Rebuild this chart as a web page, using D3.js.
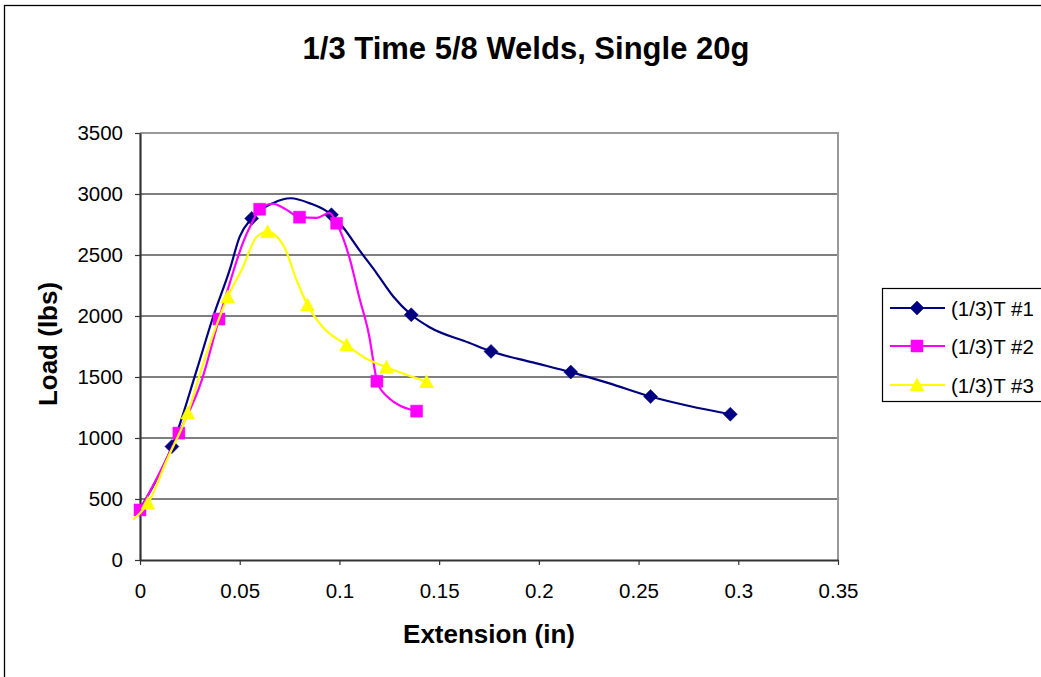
<!DOCTYPE html>
<html>
<head>
<meta charset="utf-8">
<script src="https://cdn.jsdelivr.net/npm/d3@7"></script>
<style>
  html, body { margin: 0; padding: 0; background: #fff; }
  svg { display: block; }
  text { font-family: "Liberation Sans", Arial, Helvetica, sans-serif; fill: #000; }
</style>
</head>
<body>
<svg id="chart" width="1041" height="677"></svg>
<script>
// ---- data ----
const title = "1/3 Time 5/8 Welds, Single 20g";
const xTitle = "Extension (in)";
const yTitle = "Load (lbs)";
const xTicks = [0, 0.05, 0.1, 0.15, 0.2, 0.25, 0.3, 0.35];
const xTickLabels = ["0", "0.05", "0.1", "0.15", "0.2", "0.25", "0.3", "0.35"];
const yTicks = [0, 500, 1000, 1500, 2000, 2500, 3000, 3500];
const seriesNames = ["(1/3)T #1", "(1/3)T #2", "(1/3)T #3"];

// Series 1 (line trace + marker points)
const s1LineX = [0, 0.008, 0.016, 0.0285, 0.0366, 0.045, 0.050, 0.056, 0.0666, 0.0756, 0.085, 0.096, 0.1017, 0.110, 0.1187, 0.127, 0.136, 0.145, 0.165, 0.176, 0.197, 0.216, 0.235, 0.256, 0.2754, 0.296];
const s1LineY = [420, 650, 930, 1560, 1990, 2380, 2650, 2800, 2925, 2965, 2925, 2830, 2730, 2540, 2350, 2160, 2010, 1910, 1780, 1710, 1620, 1540, 1450, 1340, 1262, 1195];
const s1MarkX = [0.016, 0.056, 0.096, 0.136, 0.176, 0.216, 0.256, 0.296];
const s1MarkY = [930, 2800, 2830, 2010, 1710, 1540, 1340, 1195];

// Series 2
const s2LineX = [0, 0.01, 0.0195, 0.031, 0.0396, 0.045, 0.0516, 0.056, 0.060, 0.0666, 0.0736, 0.080, 0.0886, 0.095, 0.0986, 0.105, 0.110, 0.115, 0.1177, 0.1188, 0.1237, 0.1387];
const s2LineY = [410, 720, 1040, 1475, 1975, 2270, 2600, 2760, 2875, 2920, 2870, 2810, 2805, 2845, 2760, 2480, 2150, 1830, 1560, 1465, 1344, 1220];
const s2MarkX = [0, 0.0195, 0.0396, 0.060, 0.080, 0.0986, 0.1188, 0.1387];
const s2MarkY = [410, 1040, 1975, 2875, 2810, 2760, 1465, 1220];

// Series 3
const s3LineX = [-0.0035, 0.004, 0.0135, 0.024, 0.0315, 0.044, 0.0516, 0.0585, 0.064, 0.0726, 0.0785, 0.084, 0.0916, 0.1036, 0.112, 0.1236, 0.1437];
const s3LineY = [330, 465, 820, 1205, 1600, 2155, 2400, 2650, 2690, 2557, 2295, 2090, 1910, 1762, 1664, 1580, 1462];
const s3MarkX = [0.004, 0.024, 0.044, 0.064, 0.084, 0.1036, 0.1236, 0.1437];
const s3MarkY = [465, 1205, 2155, 2690, 2090, 1762, 1580, 1462];

const colors = ["#000080", "#FF00FF", "#FFFF00"];

// ---- build ----
const series = [
  { name: seriesNames[0], color: colors[0], shape: "diamond",
    line: s1LineX.map((x, i) => [x, s1LineY[i]]), marks: s1MarkX.map((x, i) => [x, s1MarkY[i]]) },
  { name: seriesNames[1], color: colors[1], shape: "square",
    line: s2LineX.map((x, i) => [x, s2LineY[i]]), marks: s2MarkX.map((x, i) => [x, s2MarkY[i]]) },
  { name: seriesNames[2], color: colors[2], shape: "triangle",
    line: s3LineX.map((x, i) => [x, s3LineY[i]]), marks: s3MarkX.map((x, i) => [x, s3MarkY[i]]) }
];

const svg = d3.select("#chart");
const W = 1041, H = 677;
const pLeft = 140, pRight = 838, pTop = 133, pBottom = 560;

// outer border
svg.append("rect").attr("x", 4.5).attr("y", 5.5).attr("width", W + 10).attr("height", H + 10)
  .attr("fill", "#fff").attr("stroke", "#000").attr("stroke-width", 1.3);

const x = d3.scaleLinear().domain([0, 0.35]).range([pLeft, pRight]);
const y = d3.scaleLinear().domain([0, 3500]).range([pBottom, pTop]);

// title
svg.append("text").attr("x", 526).attr("y", 59).attr("text-anchor", "middle")
  .attr("font-size", 31).attr("font-weight", "bold").text(title);

// gridlines
svg.append("g").selectAll("line").data(yTicks.filter(d => d > 0 && d < 3500)).join("line")
  .attr("x1", pLeft).attr("x2", pRight).attr("y1", d => y(d)).attr("y2", d => y(d))
  .attr("stroke", "#555").attr("stroke-width", 1.6);

// plot frame (top & right)
svg.append("path")
  .attr("d", `M${pLeft},${y(3500)}H${pRight}V${pBottom}`)
  .attr("fill", "none").attr("stroke", "#999").attr("stroke-width", 2);

// axes
const xAxis = d3.axisBottom(x).tickValues(xTicks).tickFormat((d, i) => xTickLabels[i])
  .tickSizeInner(5).tickSizeOuter(0).tickPadding(18);
const gx = svg.append("g").attr("transform", `translate(0,${pBottom})`).call(xAxis);
gx.select(".domain").attr("stroke", "#333").attr("stroke-width", 2.2);
gx.selectAll(".tick line").attr("stroke", "#333").attr("stroke-width", 1.2);
gx.selectAll(".tick text").attr("font-size", 20.5).attr("fill", "#000")
  .style("font-family", '"Liberation Sans", Arial, sans-serif');

const yAxis = d3.axisLeft(y).tickValues(yTicks).tickFormat(d3.format("d"))
  .tickSizeInner(5).tickSizeOuter(0).tickPadding(12);
const gy = svg.append("g").attr("transform", `translate(${pLeft},0)`).call(yAxis);
gy.select(".domain").attr("stroke", "#333").attr("stroke-width", 2.2);
gy.selectAll(".tick line").attr("stroke", "#333").attr("stroke-width", 1.2);
gy.selectAll(".tick text").attr("font-size", 20.5).attr("fill", "#000")
  .style("font-family", '"Liberation Sans", Arial, sans-serif');

// axis titles
svg.append("text").attr("x", 489).attr("y", 643).attr("text-anchor", "middle")
  .attr("font-size", 26).attr("font-weight", "bold").text(xTitle);
svg.append("text").attr("transform", `translate(57,344) rotate(-90)`).attr("text-anchor", "middle")
  .attr("font-size", 26).attr("font-weight", "bold").text(yTitle);

// markers
function markerPath(shape) {
  if (shape === "diamond") return "M0,-7L7,0L0,7L-7,0Z";
  if (shape === "square") return "M-6,-6H6V6H-6Z";
  return "M0,-7L7,6L-7,6Z";
}

const lineGen = d3.line().x(d => x(d[0])).y(d => y(d[1])).curve(d3.curveMonotoneX);

const plot = svg.append("g");
series.forEach(s => {
  plot.append("path").datum(s.line).attr("d", lineGen)
    .attr("fill", "none").attr("stroke", s.color).attr("stroke-width", 2.2)
    .attr("stroke-linejoin", "round");
  plot.append("g").selectAll("path").data(s.marks).join("path")
    .attr("transform", d => `translate(${x(d[0])},${y(d[1])})`)
    .attr("d", markerPath(s.shape)).attr("fill", s.color).attr("stroke", s.color).attr("stroke-width", 0.5);
});

// legend
const lg = svg.append("g");
lg.append("rect").attr("x", 882.5).attr("y", 288.5).attr("width", 170).attr("height", 113)
  .attr("fill", "#fff").attr("stroke", "#000").attr("stroke-width", 1.2);
const rowsY = [308, 346, 385];
series.forEach((s, i) => {
  const g = lg.append("g").attr("transform", `translate(0,${rowsY[i]})`);
  g.append("line").attr("x1", 890).attr("x2", 945).attr("y1", 0).attr("y2", 0)
    .attr("stroke", s.color).attr("stroke-width", 2.2);
  g.append("path").attr("transform", "translate(917,0)").attr("d", markerPath(s.shape))
    .attr("fill", s.color).attr("stroke", s.color).attr("stroke-width", 0.5);
  g.append("text").attr("x", 951).attr("y", 7.5).attr("font-size", 20.5).text(s.name);
});
</script>
</body>
</html>
